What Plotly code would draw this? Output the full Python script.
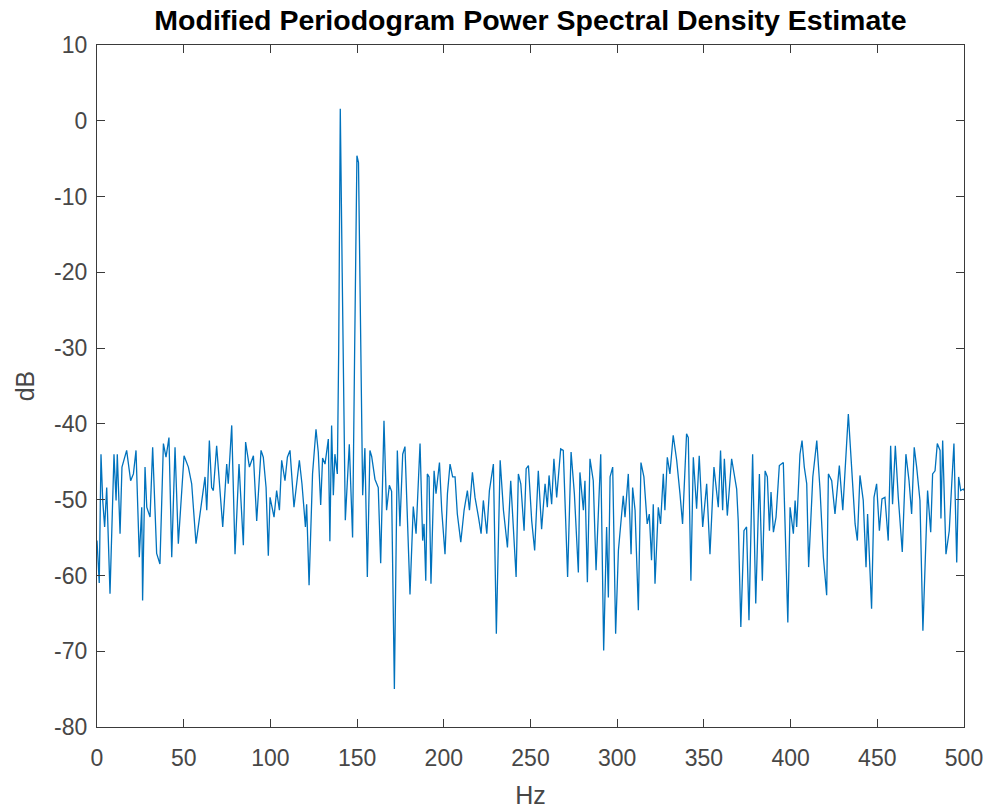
import plotly.graph_objects as go

# Frequency (Hz) and PSD (dB)
freq_hz = [
    0, 1.3, 2.3, 3.3, 4.4, 5.6, 7.5, 9.8, 11, 11.7, 13.3, 14.4, 17.1, 19.4, 21, 22.5,
    24.4, 25.8, 26.3, 27.7, 28.7, 30.6, 32.1, 34.4, 36.3, 38.3, 39.8, 41.5, 43.1, 45,
    46.9, 50.2, 52.7, 54.6, 57.1, 59.4, 60.5, 62.3, 63.3, 64.8,
    66.1, 67.1, 69, 70.6, 72.5, 74.8, 75.7, 77.7, 79.6, 81.9, 84.4, 85.7, 87.9, 90.2,
    92.1, 94.6, 95.9, 97.5, 98.8, 99.8, 102.1, 103.6, 105.2, 106.5, 108.4, 109.8, 111.3,
    113.6, 116.7, 118.2, 120.2, 120.9, 122.3,
    124.3, 126.3, 127.6, 129, 130.1, 131.5, 133.4, 134.3, 135.3, 136.3, 137.2, 138.6,
    139.4, 140.3, 141.4, 143.2, 145.5, 147.4, 148.6, 149.9, 150.8, 152.0, 153.2, 154.5,
    155.9, 157.4, 158.4, 160.3, 162.2, 163.6, 165.5, 167, 168.6, 169.9, 171.5, 173.2,
    174.7, 176.3, 177.6, 180.5, 182.4, 184,
    186.3, 187.8, 188.6, 189.6, 190.5, 191.5, 192.6, 194.4, 195.5, 197.5, 198.8, 200.7,
    202.1, 203.6, 205.1, 206.5, 207.8, 209.8, 211.7, 213.6, 214.8, 216.5, 218, 220,
    221.5, 222.8, 224.8, 226.3, 228.6, 230.3, 232.5, 234.4, 236.7, 238.6, 240.1, 241.7,
    243, 244.4, 246.3, 247.5, 248.8,
    250.7, 252.4, 254.5, 256.4, 258.4, 259.7, 260.7, 262.2, 263.5, 265.1, 267.4, 268.9,
    271.4, 273.4, 275.3, 277.6, 278.5, 280.5, 281.4, 282.8, 284.3, 286.2, 287.8, 290.5,
    292.2, 293.9, 294.9, 295.9, 297.4, 299.1, 300.7, 303.5, 304.5, 306.4, 308, 308.9,
    310.3, 312.2,
    313.7, 315.4, 317.3, 318.5, 319.8, 320.8, 321.8, 323.7, 325, 326.6, 327.5, 328.9,
    330.4, 332.3, 334.3, 336.2, 337.7, 340, 341, 342.5, 343.9, 345.8, 347.3, 349.3,
    351.6, 353.5, 355.8, 358.3, 359.6, 360.8, 361.8, 363.5, 366, 368.9, 369.8, 371.3,
    373.1, 374.6, 376.0,
    378.1, 379.9, 382, 383.7, 385.3, 386.6, 387.8, 388.7, 390.1, 391.6, 393.5, 395.8,
    398.4, 399.7, 401.6, 402.6, 403.5, 405.4, 406.6, 407.9, 409.3, 410.4, 412.8, 415.1,
    417, 418.9, 420.8, 421.8, 423.7, 425.6, 428.1, 430.1, 433.3, 435.3, 437.2, 438.5,
    440, 441.9, 443.5, 444.4, 446.7, 448.1, 449.6, 451.2, 452.7, 454.4, 456.3, 457.7,
    458.8, 460.4, 462.1, 464.4, 466.5, 468.3, 469.8, 471.3, 472.7, 474.6, 476.3, 479,
    480.8, 481.9, 483.3, 484.6, 486.2, 486.7, 487.7, 489.6, 491.5, 492.9, 494.2, 495.8,
    496.9, 498.1, 499.6, 500,
]

psd_db = [
    -55.4, -61, -44, -50.1, -53.6, -48.4, -62.4, -44, -50.1, -44, -54.5, -45.7, -43.5, -47.5, -46.6, -43.5,
    -57.6, -51, -63.3, -45.7, -51, -52.3, -43.1, -57.1, -58.5, -42.6, -44.4, -41.8, -57.6, -43.1,
    -55.8, -44.2, -45.7, -47.9, -55.8, -52, -50.5, -47, -51.4, -42.2,
    -48.4, -48.8, -42.9, -48.4, -53.6, -45.3, -47.9, -40.2, -57.2, -45.3, -56, -42.4, -45.7, -44.2,
    -52.8, -43.5, -44.4, -48.4, -57.4, -49.7, -52.3, -48.8, -51.4, -44.8, -47.5, -44.4, -43.5,
    -51, -44.8, -47.9, -53.6, -50.6, -61.3,
    -46.6, -40.7, -43.7, -50.7, -44.5, -45.3, -42, -55.5, -40.2, -49.4, -44, -46.6,
    -30, 1.6, -20, -52.7, -42.7, -55, -30, -4.6, -5.5, -30, -49.4, -43.2,
    -60.2, -43.5, -44.3, -47.3, -48.4, -58.4, -39.6, -51.4, -48.1, -48.9, -75, -43.5,
    -53.5, -44, -43, -62.5, -50.9, -54.5,
    -42.6, -55.4, -53.2, -60.7, -46.6, -47, -61.1, -46.2, -49.2, -45.1, -51.4, -57.2,
    -49.2, -45.3, -47, -47, -51.9, -55.6, -51.4, -48.8, -51.4, -46.4, -49.7, -52.3,
    -54.5, -50.1, -54.5, -48.8, -45.3, -67.7, -44.8, -51.4, -56.3, -47.5, -53.2, -60.2,
    -46.6, -47.9, -54.1, -45.9, -45.5,
    -52.8, -56.7, -46.2, -53.9, -47.9, -51, -46.8, -50.6, -44.6, -49.7, -43.3, -43.5,
    -60.2, -43.7, -49.2, -59.6, -46.4, -51.4, -47.5, -60.9, -44.6, -47.5, -59.3, -44,
    -69.9, -53.6, -62.9, -47, -45.7, -67.7, -56.7, -49.5, -52.3, -46.6, -57.2, -48.4,
    -51.4, -64.6,
    -45.1, -47, -53.2, -51.9, -58, -50.6, -61.1, -51, -53.2, -46.6, -51.4, -44.4,
    -46.6, -41.5, -44.8, -49.2, -53.2, -41.3, -41.8, -60.7, -44.4, -51.2, -44.2, -53.6,
    -47.9, -57.2, -45.7, -51, -43.5, -51.4, -44.6, -52.1, -44.6, -48.6, -52.8, -66.8,
    -54.1, -53.6, -65.9,
    -44, -63.7, -46.6, -60.7, -46.2, -47, -54.1, -49, -54.3, -52.3, -45.5, -45.1,
    -66.2, -51, -54.5, -50.1, -53.6, -44, -42.2, -45.7, -47.9, -58.9, -47, -42.2,
    -48.8, -57.6, -62.6, -46.6, -47.5, -51.9, -45.5, -51.4, -38.7, -47, -53.2, -55.4,
    -46.8, -50.1, -58.9, -51.9, -64.4, -49.7, -47.9, -54.1, -49.9, -49.7, -55.4, -42.9,
    -50.6, -42.9, -49.7, -56.9, -44, -47.5, -51.9, -43.1, -45.7, -50.1, -67.3, -48.8,
    -54.3, -46.6, -46.2, -42.6, -43.5, -52.5, -42.2, -57.2, -54.1, -48, -42.6, -58.3,
    -47, -48.8, -48.6, -48.8,
]

x_ticks = [0, 50, 100, 150, 200, 250, 300, 350, 400, 450, 500]
x_tick_labels = ["0", "50", "100", "150", "200", "250", "300", "350", "400", "450", "500"]
y_ticks = [-80, -70, -60, -50, -40, -30, -20, -10, 0, 10]
y_tick_labels = ["-80", "-70", "-60", "-50", "-40", "-30", "-20", "-10", "0", "10"]

FONT = "Liberation Sans, Arial, Helvetica"
TICK_COLOR = "#474747"

fig = go.Figure()
fig.add_trace(go.Scatter(
    x=freq_hz, y=psd_db, mode="lines",
    line=dict(color="#0072BD", width=1.3),
    showlegend=False,
))

axis_common = dict(
    showgrid=False, zeroline=False, showline=True, mirror="ticks",
    linecolor="#3a3a3a", linewidth=1.3, ticks="inside", ticklen=8,
    tickcolor="#3a3a3a", tickwidth=1.3,
    tickfont=dict(family=FONT, size=23, color=TICK_COLOR),
)

fig.update_layout(
    width=991, height=811,
    margin=dict(l=89, r=35, t=37, b=92),
    paper_bgcolor="white", plot_bgcolor="white",
    title=dict(
        text="<b>Modified Periodogram Power Spectral Density Estimate</b>",
        x=0.5, xanchor="center", xref="paper", y=0.9855, yanchor="middle",
        font=dict(family=FONT, size=28.5, color="#000000"),
    ),
    xaxis=dict(range=[0, 500], tickvals=x_ticks, ticktext=x_tick_labels,
               ticklabelstandoff=10,
               title=dict(text="Hz", font=dict(family=FONT, size=25, color=TICK_COLOR), standoff=16),
               **axis_common),
    yaxis=dict(range=[-80, 10], tickvals=y_ticks, ticktext=y_tick_labels,
               ticklabelstandoff=4,
               title=dict(text="dB", font=dict(family=FONT, size=25, color=TICK_COLOR), standoff=12),
               **axis_common),
)

fig.write_html("out.html", config={"displayModeBar": False})
